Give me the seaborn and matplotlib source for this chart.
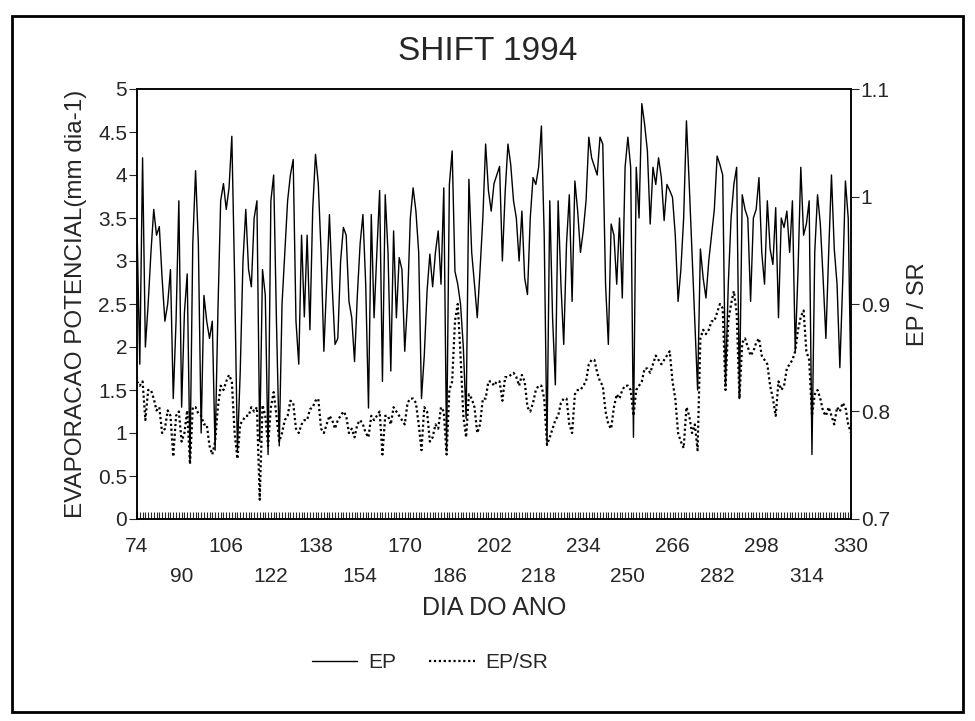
import numpy as np
import pandas as pd
import matplotlib
matplotlib.use("Agg")
import matplotlib.pyplot as plt
from matplotlib.lines import Line2D
from matplotlib.patches import Rectangle
import seaborn as sns

sns.set_style("white")
plt.rcParams['font.family'] = ['Liberation Sans Narrow', 'Liberation Sans', 'DejaVu Sans']

# ---- data ----
days = list(range(74, 331))

ep = [
    3.4, 1.8, 4.2, 2.0, 2.5, 3.1, 3.6, 3.3, 3.4, 2.8,      # 74-83
    2.3, 2.5, 2.9, 1.4, 2.3, 3.7, 1.3, 2.4, 2.85, 0.65,    # 84-93
    3.2, 4.05, 3.2, 1.0, 2.6, 2.3, 2.1, 2.3, 0.8, 2.4,     # 94-103
    3.7, 3.9, 3.6, 3.85, 4.45, 2.8, 0.8, 1.7, 3.0, 3.6,    # 104-113
    2.9, 2.7, 3.5, 3.7, 0.9, 2.9, 2.6, 0.75, 3.7, 4.0,     # 114-123
    2.3, 0.85, 2.5, 3.1, 3.7, 4.0, 4.18, 2.3, 1.8, 3.3,    # 124-133
    2.35, 3.3, 2.2, 3.6, 4.24, 3.9, 3.1, 1.95, 2.73, 3.54, # 134-143
    2.7, 2.03, 2.1, 3.0, 3.39, 3.3, 2.53, 2.34, 1.83, 2.6, # 144-153
    3.2, 3.54, 2.73, 1.29, 3.54, 2.34, 3.1, 3.82, 1.6, 3.77,  # 154-163
    3.1, 1.72, 3.35, 2.34, 3.04, 2.9, 1.95, 2.53, 3.5, 3.85,  # 164-173
    3.58, 3.1, 1.4, 1.9, 2.65, 3.08, 2.7, 3.1, 3.35, 2.73,    # 174-183
    3.85, 0.8, 3.89, 4.28, 2.88, 2.73, 2.5, 2.0, 1.17, 3.95,  # 184-193
    3.1, 2.73, 2.34, 2.9, 3.5, 4.36, 3.82, 3.58, 3.9, 4.0,    # 194-203
    4.1, 3.0, 3.8, 4.36, 4.12, 3.7, 3.5, 3.0, 3.58, 2.8,      # 204-213
    2.61, 3.5, 3.97, 3.89, 4.09, 4.57, 3.3, 0.86, 3.7, 2.34,  # 214-223
    1.56, 3.7, 2.73, 2.03, 3.2, 3.77, 2.53, 3.93, 3.58, 3.1,  # 224-233
    3.35, 3.7, 4.44, 4.2, 4.1, 4.0, 4.44, 4.36, 2.73, 2.03,   # 234-243
    3.43, 3.3, 2.73, 3.5, 2.57, 4.09, 4.44, 4.09, 0.95, 4.09, # 244-253
    3.5, 4.83, 4.59, 4.28, 3.43, 4.09, 3.89, 4.2, 3.97, 3.47, # 254-263
    3.89, 3.82, 3.74, 3.3, 2.53, 2.9, 3.5, 4.63, 3.89, 3.1,   # 264-273
    2.34, 1.5, 3.14, 2.8, 2.57, 3.0, 3.3, 3.6, 4.22, 4.12,    # 274-283
    4.0, 1.56, 2.73, 3.5, 3.89, 4.09, 1.4, 3.77, 3.6, 3.5,    # 284-293
    2.53, 3.5, 3.6, 3.97, 3.1, 2.73, 3.7, 3.14, 2.96, 3.62,   # 294-303
    2.34, 3.5, 3.39, 3.58, 3.1, 3.7, 1.95, 2.88, 4.09, 3.3,   # 304-313
    3.43, 3.7, 0.75, 3.1, 3.77, 3.43, 2.8, 2.1, 3.1, 4.0,     # 314-323
    3.14, 2.73, 1.76, 2.73, 3.93, 3.5, 1.5,                   # 324-330
]

ep_sr = [
    0.828, 0.824, 0.828, 0.792, 0.820, 0.820, 0.812, 0.801, 0.804, 0.780,  # 74-83
    0.784, 0.801, 0.796, 0.758, 0.796, 0.800, 0.772, 0.780, 0.801, 0.751,  # 84-93
    0.804, 0.804, 0.798, 0.796, 0.788, 0.788, 0.768, 0.760, 0.772, 0.804,  # 94-103
    0.824, 0.820, 0.828, 0.834, 0.828, 0.780, 0.756, 0.788, 0.792, 0.796,  # 104-113
    0.796, 0.804, 0.800, 0.804, 0.718, 0.806, 0.796, 0.768, 0.804, 0.818,  # 114-123
    0.796, 0.772, 0.780, 0.792, 0.796, 0.810, 0.808, 0.784, 0.780, 0.788,  # 124-133
    0.792, 0.792, 0.802, 0.804, 0.810, 0.812, 0.784, 0.780, 0.788, 0.796,  # 134-143
    0.792, 0.784, 0.792, 0.796, 0.800, 0.796, 0.780, 0.784, 0.776, 0.788,  # 144-153
    0.792, 0.788, 0.780, 0.776, 0.796, 0.792, 0.796, 0.800, 0.760, 0.796,  # 154-163
    0.796, 0.788, 0.804, 0.800, 0.796, 0.792, 0.788, 0.808, 0.812, 0.812,  # 164-173
    0.808, 0.788, 0.764, 0.804, 0.800, 0.772, 0.776, 0.788, 0.784, 0.804,  # 174-183
    0.800, 0.760, 0.820, 0.828, 0.884, 0.900, 0.852, 0.796, 0.776, 0.816,  # 184-193
    0.812, 0.804, 0.780, 0.788, 0.812, 0.812, 0.828, 0.828, 0.824, 0.828,  # 194-203
    0.828, 0.810, 0.832, 0.832, 0.834, 0.836, 0.832, 0.824, 0.834, 0.828,  # 204-213
    0.804, 0.800, 0.808, 0.820, 0.824, 0.824, 0.812, 0.769, 0.776, 0.784,  # 214-223
    0.792, 0.796, 0.808, 0.812, 0.812, 0.788, 0.780, 0.816, 0.820, 0.820,  # 224-233
    0.824, 0.828, 0.844, 0.848, 0.848, 0.836, 0.828, 0.824, 0.800, 0.788,  # 234-243
    0.784, 0.804, 0.816, 0.812, 0.820, 0.824, 0.824, 0.820, 0.796, 0.820,  # 244-253
    0.824, 0.828, 0.840, 0.840, 0.836, 0.844, 0.852, 0.848, 0.844, 0.848,  # 254-263
    0.852, 0.856, 0.828, 0.812, 0.780, 0.772, 0.766, 0.804, 0.796, 0.780,  # 264-273
    0.788, 0.764, 0.868, 0.876, 0.872, 0.876, 0.884, 0.884, 0.892, 0.900,  # 274-283
    0.896, 0.820, 0.884, 0.900, 0.912, 0.892, 0.812, 0.864, 0.868, 0.860,  # 284-293
    0.852, 0.856, 0.864, 0.868, 0.852, 0.848, 0.844, 0.824, 0.812, 0.796,  # 294-303
    0.828, 0.820, 0.824, 0.840, 0.844, 0.848, 0.856, 0.876, 0.888, 0.894,  # 304-313
    0.856, 0.848, 0.796, 0.816, 0.820, 0.812, 0.800, 0.796, 0.804, 0.796,  # 314-323
    0.788, 0.804, 0.800, 0.808, 0.804, 0.788, 0.780,                       # 324-330
]

major_ticks = [74, 90, 106, 122, 138, 154, 170, 186, 202, 218, 234, 250, 266, 282, 298, 314, 330]
left_ticks = [0, 0.5, 1, 1.5, 2, 2.5, 3, 3.5, 4, 4.5, 5]
left_labels = ["0", "0.5", "1", "1.5", "2", "2.5", "3", "3.5", "4", "4.5", "5"]
right_ticks = [0.7, 0.8, 0.9, 1.0, 1.1]
right_labels = ["0.7", "0.8", "0.9", "1", "1.1"]

assert len(days) == len(ep) == len(ep_sr)
df = pd.DataFrame({"dia": days, "EP": ep, "EP/SR": ep_sr})

# ---- figure ----
fig = plt.figure(figsize=(9.75, 7.21), dpi=100)
fig.patch.set_facecolor("white")
ax = fig.add_axes([137 / 975, 1 - 519 / 721, (851 - 137) / 975, (519 - 89) / 721])
ax2 = ax.twinx()

sns.lineplot(data=df, x="dia", y="EP", ax=ax, color="black", linewidth=1.0)
sns.lineplot(data=df, x="dia", y="EP/SR", ax=ax2, color="black", linewidth=1.6,
             linestyle=(0, (1, 1.2)))

ax.set_xlim(74, 330)
ax.set_ylim(0, 5)
ax2.set_ylim(0.7, 1.1)

fs = 15
ax.set_xticks(major_ticks)
ax.set_xticklabels([str(t) if i % 2 == 0 else "\n" + str(t) for i, t in enumerate(major_ticks)],
                   fontsize=fs, linespacing=1.75)
ax.set_xticks(days, minor=True)
ax.tick_params(axis="x", which="both", bottom=True, direction="in", length=5, width=0.8, pad=13)
ax.set_yticks(left_ticks)
ax.set_yticklabels(left_labels, fontsize=fs)
ax.tick_params(axis="y", left=True, direction="out", length=6, width=0.8, pad=1)
ax2.set_yticks(right_ticks)
ax2.set_yticklabels(right_labels, fontsize=fs)
ax2.tick_params(axis="y", right=True, direction="out", length=6, width=0.8, pad=1)

for a in (ax, ax2):
    for s in a.spines.values():
        s.set_visible(True)
        s.set_color("black")
        s.set_linewidth(1.1)

ax.set_xlabel("DIA DO ANO", fontsize=18, labelpad=7)
ax.set_ylabel("EVAPORACAO POTENCIAL(mm dia-1)", fontsize=17.5, labelpad=8)
ax2.set_ylabel("EP / SR", fontsize=17, labelpad=12)

fig.text(0.5, 1 - 52 / 721, "SHIFT 1994", ha="center", va="center", fontsize=24)

handles = [Line2D([], [], color="black", lw=1.0),
           Line2D([], [], color="black", lw=1.6, linestyle=(0, (1, 1.2)))]
fig.legend(handles, ["EP", "EP/SR"], loc="center", bbox_to_anchor=(0.441, 1 - 663 / 721),
           ncol=2, frameon=False, fontsize=15, handlelength=2.2, columnspacing=1.6,
           handletextpad=0.5)

# outer frame
fig.patches.append(Rectangle((12 / 975, 9 / 721), (963 - 12) / 975, (705 - 9) / 721,
                             transform=fig.transFigure, fill=False, edgecolor="black",
                             linewidth=2.0))

fig.savefig("out.png", dpi=100, facecolor="white")
